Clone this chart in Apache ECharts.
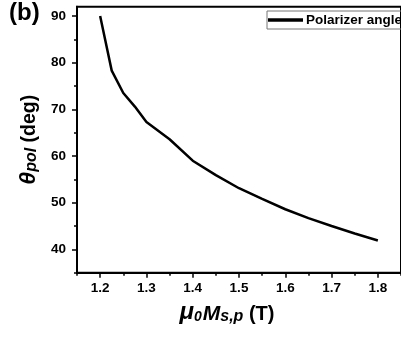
<!DOCTYPE html>
<html><head><meta charset="utf-8">
<script src="https://cdn.jsdelivr.net/npm/echarts@6/dist/echarts.min.js"></script>
<style>html,body{margin:0;padding:0;background:#fff}#c{width:401px;height:337px}</style>
</head><body><div id="c"></div>
<script>
const xValues = [1.2, 1.225, 1.25, 1.275, 1.3, 1.35, 1.4, 1.45, 1.5, 1.55, 1.6, 1.65, 1.7, 1.75, 1.8];
const angleValues = [90, 78.3, 73.5, 70.6, 67.3, 63.6, 59.0, 55.9, 53.1, 50.8, 48.6, 46.7, 45.0, 43.4, 41.9];
const xMajorTicks = [1.2, 1.3, 1.4, 1.5, 1.6, 1.7, 1.8];
const xMinorTicks = [1.15, 1.25, 1.35, 1.45, 1.55, 1.65, 1.75, 1.85];
const yMajorTicks = [40, 50, 60, 70, 80, 90];
const yMinorTicks = [35, 45, 55, 65, 75, 85];
const seriesName = 'Polarizer angle';

const chart = echarts.init(document.getElementById('c'), null, {renderer: 'canvas'});
const F = 'Liberation Sans, Arial, sans-serif';
const black = '#000';
const baseX = {
  type: 'value', min: 1.15, max: 1.85, position: 'bottom',
  splitLine: {show: false}
};
const baseY = {
  type: 'value', min: 35, max: 92, position: 'left',
  splitLine: {show: false}
};
chart.setOption({
  animation: false,
  backgroundColor: '#fff',
  grid: {left: 77, right: -5, top: 6.7, bottom: 64.3, show: true, borderColor: black, borderWidth: 2, backgroundColor: 'transparent'},
  legend: {
    left: 267, top: 11, data: [seriesName], orient: 'horizontal',
    borderColor: '#777', borderWidth: 1, padding: [2, 3, 2, 1],
    itemWidth: 35, itemHeight: 14, itemGap: 2,
    icon: 'path://M0,0 L10,0 L10,1 L0,1 Z',
    textStyle: {fontFamily: F, fontWeight: 'bold', fontSize: 13.5, color: black, padding: [0, 0, 0, -2]}
  },
  xAxis: [
    Object.assign({}, baseX, {
      axisLine: {show: true, onZero: false, lineStyle: {color: black, width: 2}},
      axisTick: {show: true, customValues: xMajorTicks, length: 5, lineStyle: {color: black, width: 1.5}},
      axisLabel: {customValues: xMajorTicks, margin: 9, fontFamily: F, fontWeight: 'bold', fontSize: 13.5, color: black,
        formatter: v => v.toFixed(1)},
      name: '{mu|μ}{sub|0}{m|M}{sp|s,p}{t| (T)}',
      nameLocation: 'middle', nameGap: 27,
      nameTextStyle: {
        padding: [0, 24, 0, 0],
        rich: {
          mu: {fontFamily: F, fontStyle: 'italic', fontWeight: 'bold', fontSize: 24, color: black, verticalAlign: 'bottom', lineHeight: 22},
          sub: {fontFamily: F, fontStyle: 'italic', fontWeight: 'bold', fontSize: 14, color: black, verticalAlign: 'bottom', lineHeight: 16, padding: [0,1,0,0]},
          m: {fontFamily: F, fontStyle: 'italic', fontWeight: 'bold', fontSize: 21, color: black, verticalAlign: 'bottom', lineHeight: 22},
          sp: {fontFamily: F, fontStyle: 'italic', fontWeight: 'bold', fontSize: 16, color: black, verticalAlign: 'bottom', lineHeight: 19},
          t: {fontFamily: F, fontWeight: 'bold', fontSize: 20, color: black, verticalAlign: 'bottom', lineHeight: 22}
        }
      }
    }),
    Object.assign({}, baseX, {
      axisLine: {show: false, onZero: false},
      axisTick: {show: true, customValues: xMinorTicks, length: 3, lineStyle: {color: black, width: 1.5}},
      axisLabel: {show: false}
    })
  ],
  yAxis: [
    Object.assign({}, baseY, {
      axisLine: {show: true, onZero: false, lineStyle: {color: black, width: 2}},
      axisTick: {show: true, customValues: yMajorTicks, length: 5, lineStyle: {color: black, width: 1.5}},
      axisLabel: {customValues: yMajorTicks, margin: 11, fontFamily: F, fontWeight: 'bold', fontSize: 13.5, color: black},
      name: '{th|θ}{sub|pol}{d| (deg)}',
      nameLocation: 'middle', nameGap: 36, nameRotate: 90,
      nameTextStyle: {
        rich: {
          th: {fontFamily: F, fontStyle: 'italic', fontWeight: 'bold', fontSize: 23, color: black, verticalAlign: 'bottom', lineHeight: 23},
          sub: {fontFamily: F, fontStyle: 'italic', fontWeight: 'bold', fontSize: 16, color: black, verticalAlign: 'bottom', lineHeight: 15},
          d: {fontFamily: F, fontWeight: 'bold', fontSize: 19.5, color: black, verticalAlign: 'bottom', lineHeight: 23}
        }
      }
    }),
    Object.assign({}, baseY, {
      axisLine: {show: false, onZero: false},
      axisTick: {show: true, customValues: yMinorTicks, length: 3, lineStyle: {color: black, width: 1.5}},
      axisLabel: {show: false}
    })
  ],
  graphic: [{
    type: 'text', left: 9, top: 1,
    style: {text: '(b)', font: 'bold 24px Liberation Sans, Arial, sans-serif', fill: black}
  }],
  series: [{
    name: seriesName, type: 'line', xAxisIndex: 0, yAxisIndex: 0,
    data: xValues.map((x, i) => [x, angleValues[i]]),
    showSymbol: false, smooth: false,
    lineStyle: {color: black, width: 2.5},
    itemStyle: {color: black}
  }]
});
</script></body></html>
